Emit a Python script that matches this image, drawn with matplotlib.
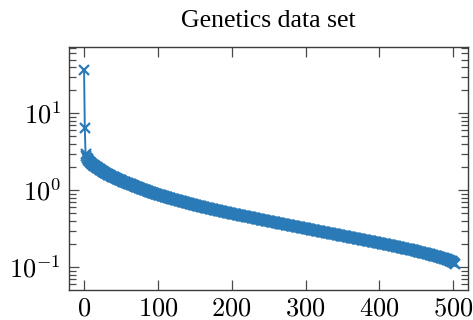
import numpy as np
import matplotlib
matplotlib.use("Agg")
import matplotlib.pyplot as plt
from matplotlib.ticker import FixedLocator, FuncFormatter, LogLocator, NullFormatter

plt.rcParams['mathtext.fontset'] = 'cm'

title = "Genetics data set"

# singular values, index 0..502
values = [
    36.5, 6.5, 2.95, 2.75, 2.62, 2.52, 2.45, 2.39, 2.33, 2.28,
    2.23, 2.19, 2.15, 2.12, 2.08, 2.05, 2.02, 1.98, 1.95, 1.92,
    1.90, 1.87, 1.85, 1.82, 1.80, 1.78, 1.75, 1.73, 1.70, 1.68,
    1.66, 1.64, 1.62, 1.60, 1.59, 1.57, 1.55, 1.53, 1.51, 1.50,
    1.48, 1.47, 1.45, 1.44, 1.42, 1.41, 1.40, 1.38, 1.37, 1.35,
    1.34, 1.33, 1.32, 1.30, 1.29, 1.28, 1.27, 1.25, 1.24, 1.23,
    1.22, 1.21, 1.20, 1.19, 1.18, 1.17, 1.16, 1.15, 1.13, 1.12,
    1.11, 1.105, 1.096, 1.088, 1.079, 1.070, 1.061, 1.052, 1.044, 1.035,
    1.026, 1.018, 1.010, 1.003, 0.995, 0.987, 0.979, 0.971, 0.964, 0.956,
    0.948, 0.941, 0.935, 0.928, 0.921, 0.915, 0.908, 0.901, 0.894, 0.888,
    0.881, 0.875, 0.869, 0.863, 0.857, 0.852, 0.846, 0.840, 0.834, 0.828,
    0.822, 0.817, 0.812, 0.807, 0.802, 0.797, 0.791, 0.786, 0.781, 0.776,
    0.771, 0.766, 0.762, 0.757, 0.752, 0.748, 0.743, 0.738, 0.733, 0.729,
    0.724, 0.720, 0.716, 0.711, 0.707, 0.703, 0.699, 0.695, 0.690, 0.686,
    0.682, 0.678, 0.674, 0.671, 0.667, 0.663, 0.659, 0.655, 0.652, 0.648,
    0.644, 0.641, 0.637, 0.634, 0.630, 0.627, 0.624, 0.620, 0.617, 0.613,
    0.610, 0.607, 0.604, 0.600, 0.597, 0.594, 0.591, 0.588, 0.584, 0.581,
    0.578, 0.575, 0.572, 0.570, 0.567, 0.564, 0.561, 0.558, 0.556, 0.553,
    0.550, 0.547, 0.545, 0.542, 0.540, 0.537, 0.534, 0.532, 0.529, 0.527,
    0.524, 0.522, 0.519, 0.517, 0.514, 0.512, 0.509, 0.507, 0.504, 0.502,
    0.499, 0.497, 0.494, 0.492, 0.490, 0.488, 0.485, 0.483, 0.481, 0.478,
    0.476, 0.474, 0.472, 0.470, 0.468, 0.466, 0.463, 0.461, 0.459, 0.457,
    0.455, 0.453, 0.451, 0.449, 0.447, 0.445, 0.443, 0.441, 0.439, 0.437,
    0.435, 0.433, 0.431, 0.429, 0.427, 0.425, 0.423, 0.421, 0.419, 0.417,
    0.415, 0.413, 0.411, 0.410, 0.408, 0.406, 0.404, 0.402, 0.401, 0.399,
    0.397, 0.395, 0.394, 0.392, 0.390, 0.389, 0.387, 0.385, 0.383, 0.382,
    0.380, 0.378, 0.377, 0.375, 0.374, 0.372, 0.370, 0.369, 0.367, 0.366,
    0.364, 0.362, 0.361, 0.359, 0.358, 0.356, 0.354, 0.353, 0.351, 0.350,
    0.348, 0.347, 0.345, 0.344, 0.342, 0.341, 0.339, 0.338, 0.336, 0.335,
    0.333, 0.332, 0.330, 0.329, 0.327, 0.326, 0.325, 0.323, 0.322, 0.320,
    0.319, 0.318, 0.316, 0.315, 0.313, 0.312, 0.311, 0.309, 0.308, 0.306,
    0.305, 0.304, 0.302, 0.301, 0.300, 0.298, 0.297, 0.296, 0.295, 0.293,
    0.292, 0.291, 0.290, 0.288, 0.287, 0.286, 0.285, 0.284, 0.282, 0.281,
    0.280, 0.279, 0.278, 0.276, 0.275, 0.274, 0.273, 0.272, 0.270, 0.269,
    0.268, 0.267, 0.266, 0.264, 0.263, 0.262, 0.261, 0.260, 0.258, 0.257,
    0.256, 0.255, 0.254, 0.253, 0.252, 0.251, 0.249, 0.248, 0.247, 0.246,
    0.245, 0.244, 0.243, 0.242, 0.241, 0.240, 0.239, 0.238, 0.237, 0.236,
    0.235, 0.234, 0.233, 0.232, 0.231, 0.230, 0.229, 0.228, 0.227, 0.226,
    0.225, 0.224, 0.223, 0.222, 0.221, 0.220, 0.219, 0.218, 0.217, 0.216,
    0.215, 0.214, 0.213, 0.212, 0.211, 0.211, 0.210, 0.209, 0.208, 0.207,
    0.206, 0.205, 0.204, 0.203, 0.202, 0.202, 0.201, 0.200, 0.199, 0.198,
    0.197, 0.196, 0.195, 0.194, 0.193, 0.193, 0.192, 0.191, 0.190, 0.189,
    0.188, 0.187, 0.186, 0.185, 0.184, 0.184, 0.183, 0.182, 0.181, 0.180,
    0.179, 0.178, 0.177, 0.177, 0.176, 0.175, 0.174, 0.173, 0.173, 0.172,
    0.171, 0.170, 0.169, 0.168, 0.167, 0.167, 0.166, 0.165, 0.164, 0.163,
    0.162, 0.161, 0.160, 0.159, 0.158, 0.158, 0.157, 0.156, 0.155, 0.154,
    0.153, 0.152, 0.151, 0.151, 0.150, 0.149, 0.148, 0.147, 0.147, 0.146,
    0.145, 0.144, 0.143, 0.142, 0.141, 0.141, 0.140, 0.139, 0.138, 0.137,
    0.136, 0.135, 0.134, 0.133, 0.132, 0.132, 0.131, 0.130, 0.129, 0.128,
    0.127, 0.126, 0.125, 0.124, 0.123, 0.122, 0.121, 0.120, 0.119, 0.118,
    0.117, 0.114, 0.109,
]
index = list(range(len(values)))

x_ticks = [0, 100, 200, 300, 400, 500]
y_ticks = [0.1, 1, 10]

fig = plt.figure(figsize=(4.73, 3.20), dpi=100)
ax = fig.add_axes([0.1465, 0.094, 0.8429, 0.758])

ax.plot(index, values, color='#2a7ab8', lw=1.4, marker='x', ms=7, mew=1.6)

ax.set_yscale('log')
ax.set_xlim(-20, 520)
ax.set_ylim(0.0507, 72)

ax.xaxis.set_major_locator(FixedLocator(x_ticks))
ax.xaxis.set_major_formatter(FuncFormatter(lambda v, p: f'${int(v)}$'))
ax.yaxis.set_major_locator(FixedLocator(y_ticks))
ax.yaxis.set_major_formatter(FuncFormatter(lambda v, p: f'$10^{{{int(round(np.log10(v)))}}}$'))
ax.yaxis.set_minor_locator(LogLocator(base=10, subs=np.arange(2, 10)))
ax.yaxis.set_minor_formatter(NullFormatter())

for s in ax.spines.values():
    s.set_color('#3c3c3c')
    s.set_linewidth(1.0)

ax.tick_params(which='both', direction='in', top=True, right=True, color='#4a4a4a', width=0.9)
ax.tick_params(which='major', length=7.5)
ax.tick_params(which='minor', length=4.8)
ax.tick_params(axis='x', labelsize=19, pad=4)
ax.tick_params(axis='y', labelsize=19, pad=6)

ax.set_title(title, fontsize=18.5, family='Liberation Serif', pad=15)

fig.savefig('out.png', dpi=100)
